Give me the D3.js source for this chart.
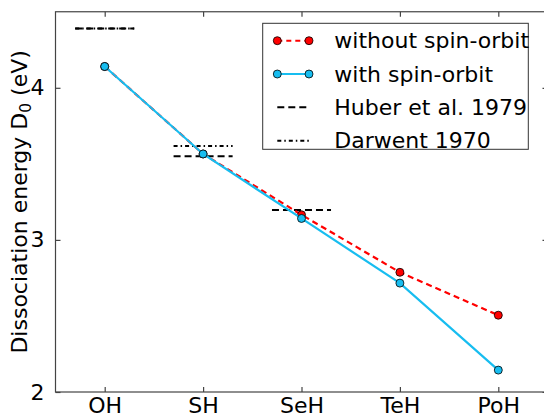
<!DOCTYPE html>
<html><head><meta charset="utf-8">
<script src="https://cdn.jsdelivr.net/npm/d3@7"></script>
<style>
html,body{margin:0;padding:0;background:#fff;}
text{font-family:"DejaVu Sans",sans-serif;fill:#000;}
</style></head>
<body><svg id="c" width="544" height="415"></svg>
<script>
const molecules = ["OH","SH","SeH","TeH","PoH"];
const withoutSO = [4.14, 3.565, 3.165, 2.787, 2.505];
const withSO = [4.14, 3.565, 3.141, 2.716, 2.144];
const huberIdx = [0, 1, 2];
const huberVals = [4.39, 3.55, 3.197];
const darwentIdx = [0, 1];
const darwentVals = [4.39, 3.617];
const yTicks = [2, 3, 4];
const legendLabels = ["without spin-orbit","with spin-orbit","Huber et al. 1979","Darwent 1970"];

const svg = d3.select("#c");
const L = 55.5, R = 547.5, T = 11.75, B = 392;
const x = d3.scaleLinear().domain([-0.5, 4.5]).range([L, R]);
const y = d3.scaleLinear().domain([2, 4.5]).range([B, T]);
const idx = molecules.map((d,i)=>i);

const RED = "#ff0000", BLUE = "#17bdf0";
const fs = 22;

// reference lines
const half = 0.3;
svg.append("g").selectAll("line").data(huberIdx).join("line")
  .attr("x1", (d,i)=>x(d-half)).attr("x2",(d,i)=>x(d+half))
  .attr("y1",(d,i)=>y(huberVals[i])).attr("y2",(d,i)=>y(huberVals[i]))
  .attr("stroke","#000").attr("stroke-width",2).attr("stroke-dasharray","7,4");
svg.append("g").selectAll("line").data(darwentIdx).join("line")
  .attr("x1", (d,i)=>x(d-half)).attr("x2",(d,i)=>x(d+half))
  .attr("y1",(d,i)=>y(darwentVals[i])).attr("y2",(d,i)=>y(darwentVals[i]))
  .attr("stroke","#000").attr("stroke-width",2).attr("stroke-dasharray","4,3,1.5,3");

const line = d3.line().x(d=>x(d[0])).y(d=>y(d[1]));
// without SO
svg.append("path").attr("d", line(idx.map(i=>[i, withoutSO[i]])))
  .attr("fill","none").attr("stroke",RED).attr("stroke-width",2.2).attr("stroke-dasharray","6,4");
svg.append("g").selectAll("circle").data(idx).join("circle")
  .attr("cx",i=>x(i)).attr("cy",i=>y(withoutSO[i])).attr("r",4)
  .attr("fill",RED).attr("stroke","#000").attr("stroke-width",0.8);
// with SO
svg.append("path").attr("d", line(idx.map(i=>[i, withSO[i]])))
  .attr("fill","none").attr("stroke",BLUE).attr("stroke-width",2.2);
svg.append("g").selectAll("circle").data(idx).join("circle")
  .attr("cx",i=>x(i)).attr("cy",i=>y(withSO[i])).attr("r",4)
  .attr("fill",BLUE).attr("stroke","#000").attr("stroke-width",0.8);

// axes frame
const axCol = "#444";
svg.append("rect").attr("x",L).attr("y",T).attr("width",R-L).attr("height",B-T)
  .attr("fill","none").attr("stroke",axCol).attr("stroke-width",1.2);

// y axis (ticks inward)
const yAx = svg.append("g").attr("transform",`translate(${L},0)`)
  .call(d3.axisLeft(y).tickValues(yTicks).tickFormat(d3.format("d")).tickSizeInner(-5).tickSizeOuter(0).tickPadding(11));
yAx.select(".domain").remove();
yAx.selectAll("line").attr("stroke",axCol).attr("stroke-width",1.2);
yAx.selectAll("text").attr("font-size",fs).attr("font-family","DejaVu Sans");
const yAxR = svg.append("g").attr("transform",`translate(${R},0)`)
  .call(d3.axisRight(y).tickValues(yTicks).tickFormat("").tickSizeInner(-5).tickSizeOuter(0));
yAxR.select(".domain").remove();
yAxR.selectAll("line").attr("stroke",axCol).attr("stroke-width",1.2);

// x axis
const xAx = svg.append("g").attr("transform",`translate(0,${B})`)
  .call(d3.axisBottom(x).tickValues(idx).tickFormat(i=>molecules[i]).tickSizeInner(-5).tickSizeOuter(0).tickPadding(5));
xAx.select(".domain").remove();
xAx.selectAll("line").attr("stroke",axCol).attr("stroke-width",1.2);
xAx.selectAll("text").attr("font-size",fs).attr("font-family","DejaVu Sans");
const xAxT = svg.append("g").attr("transform",`translate(0,${T})`)
  .call(d3.axisTop(x).tickValues(idx).tickFormat("").tickSizeInner(-5).tickSizeOuter(0));
xAxT.select(".domain").remove();
xAxT.selectAll("line").attr("stroke",axCol).attr("stroke-width",1.2);

// y label
const yl = svg.append("text").attr("transform",`translate(27,${(T+B)/2}) rotate(-90)`)
  .attr("text-anchor","middle").attr("font-size",fs);
yl.append("tspan").text("Dissociation energy D");
yl.append("tspan").attr("font-size",fs*0.7).attr("dy",4).text("0");
yl.append("tspan").attr("dy",-4).text(" (eV)");

// legend
const lg = svg.append("g");
lg.append("rect").attr("x",262.7).attr("y",23.3).attr("width",265.6).attr("height",126)
  .attr("fill","#fff").attr("stroke","#333").attr("stroke-width",1);
const rows = [40.7, 74, 107.3, 140.7];
const lx1 = 277.3, lx2 = 309;
const styles = [
  {stroke:RED, dash:"5,4", marker:RED},
  {stroke:BLUE, dash:null, marker:BLUE},
  {stroke:"#000", dash:"7,4", marker:null},
  {stroke:"#000", dash:"4,3,1.5,3", marker:null}
];
legendLabels.forEach((lab,k)=>{
  const s = styles[k], yy = rows[k];
  const ln = lg.append("line").attr("x1",lx1).attr("x2",lx2).attr("y1",yy).attr("y2",yy)
    .attr("stroke",s.stroke).attr("stroke-width",2);
  if (s.dash) ln.attr("stroke-dasharray",s.dash);
  if (s.marker) {
    [lx1,lx2].forEach(px=>lg.append("circle").attr("cx",px).attr("cy",yy).attr("r",4)
      .attr("fill",s.marker).attr("stroke","#000").attr("stroke-width",0.8));
  }
  lg.append("text").attr("x",334.3).attr("y",yy).attr("dy","0.35em").attr("font-size",fs).text(lab);
});
</script></body></html>
